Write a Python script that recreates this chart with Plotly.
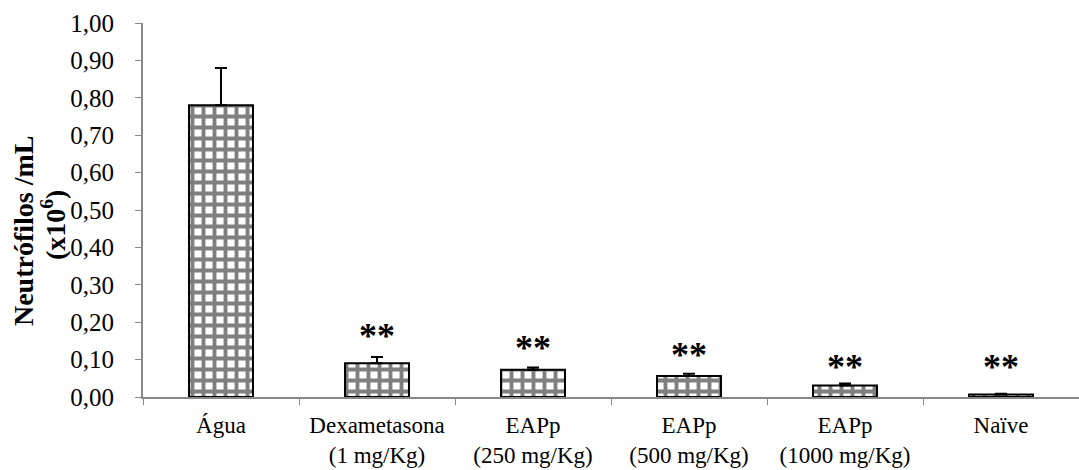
import plotly.graph_objects as go

categories = ["Água", "Dexametasona<br>(1 mg/Kg)", "EAPp<br>(250 mg/Kg)",
              "EAPp<br>(500 mg/Kg)", "EAPp<br>(1000 mg/Kg)", "Naïve"]
values = [0.78, 0.090, 0.073, 0.056, 0.031, 0.007]
errors = [0.100, 0.017, 0.006, 0.006, 0.005, 0.002]
star_labels = ["", "**", "**", "**", "**", "**"]
star_y = [None, 0.162, 0.131, 0.113, 0.081, 0.081]
yticks = [i / 10 for i in range(11)]

FONT = "Liberation Serif"

fig = go.Figure()
fig.add_trace(go.Bar(
    x=categories, y=values,
    marker=dict(color="white",
                line=dict(color="black", width=2),
                pattern=dict(shape="+", size=11, solidity=0.58,
                             fgcolor="black", bgcolor="white", fillmode="overlay")),
    error_y=dict(type="data", array=errors, arrayminus=[0] * len(errors),
                 symmetric=False, color="black", thickness=2, width=6),
    width=0.41,
))

for c, s, y in zip(categories, star_labels, star_y):
    if s:
        fig.add_annotation(x=c, y=y, text="<b>" + s + "</b>", showarrow=False,
                           font=dict(family=FONT, size=36, color="black"),
                           yanchor="middle")

fig.add_annotation(xref="paper", yref="paper", x=-0.127, y=0.444,
                   text="<b>Neutrófilos /mL</b>",
                   textangle=-90, showarrow=False, xanchor="center", yanchor="middle",
                   font=dict(family=FONT, size=28, color="black"))
fig.add_annotation(xref="paper", yref="paper", x=-0.095, y=0.46,
                   text="<b>(x10<sup>6</sup>)</b>",
                   textangle=-90, showarrow=False, xanchor="center", yanchor="middle",
                   font=dict(family=FONT, size=28, color="black"))

fig.update_layout(
    width=1079, height=470,
    margin=dict(l=143, r=0, t=23, b=73),
    paper_bgcolor="white", plot_bgcolor="white",
    separators=",.",
    showlegend=False,
    font=dict(family=FONT, size=24, color="black"),
    bargap=0.59,
)
fig.update_xaxes(showline=True, linecolor="#888", linewidth=2,
                 ticks="outside", tickson="boundaries", ticklen=6, tickcolor="#888",
                 ticklabelstandoff=6,
                 tickfont=dict(family=FONT, size=23, color="black"))
fig.update_yaxes(range=[0, 1], tickvals=yticks, tickformat=".2f",
                 showline=True, linecolor="#888", linewidth=2,
                 ticks="outside", ticklen=6, tickcolor="#888", showgrid=False,
                 zeroline=False, ticklabelstandoff=16,
                 tickfont=dict(family=FONT, size=25, color="black"))

fig.write_html("out.html")
